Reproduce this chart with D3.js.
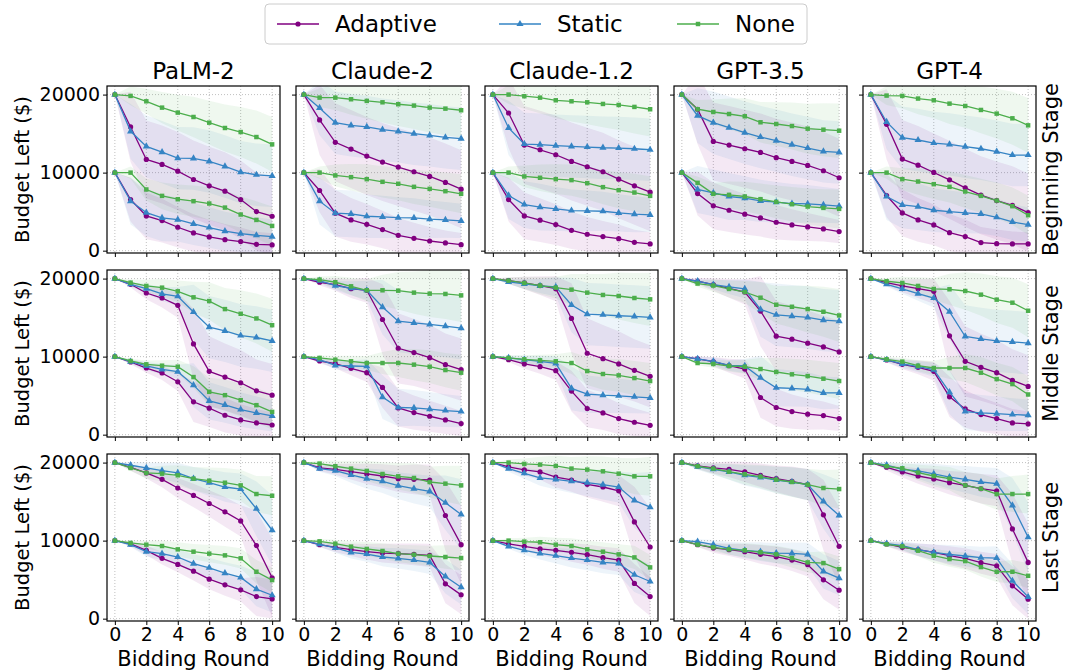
<!DOCTYPE html>
<html lang="en">
<head>
<meta charset="utf-8">
<script src="https://cdn.jsdelivr.net/npm/d3@7"></script>
<style>
  body { margin: 0; background: #fff; font-family: "DejaVu Sans", sans-serif; }
  #chart text { font-family: "DejaVu Sans", sans-serif; fill: #000; }
  .grid line { stroke: #b0b0b0; stroke-width: 0.8; stroke-dasharray: 1,2; }
  .frame { fill: none; stroke: #000; stroke-width: 1.2; }
  .tick line { stroke: #000; }
</style>
</head>
<body>
<svg id="chart" width="1070" height="671"></svg>
<script>
// budget left, in $1000, one row per model (PaLM-2, Claude-2, Claude-1.2, GPT-3.5, GPT-4)
var models = ["PaLM-2", "Claude-2", "Claude-1.2", "GPT-3.5", "GPT-4"];
var stages = ["Beginning Stage", "Middle Stage", "Last Stage"];
var methods = ["Adaptive", "Static", "None"];
var colors = ["#800080", "#3584c4", "#4cae4c"];
var rounds = [0, 1, 2, 3, 4, 5, 6, 7, 8, 9, 10];
var xTicks = [0, 2, 4, 6, 8, 10];
var yTicks = [0, 10, 20];

// ---- beginning stage ----
var beginAdaptiveHi = [
  [20, 15.85, 11.69, 11.05, 10.19, 9.12, 8.31, 7.62, 6.55, 5.01, 4.41],
  [20, 16.75, 13.88, 13.02, 12.12, 11.35, 10.71, 10.11, 9.51, 8.74, 7.88],
  [20, 17.64, 13.53, 12.93, 12.29, 11.43, 10.75, 10.11, 9.16, 8.31, 7.49],
  [20, 18.12, 14.00, 13.53, 13.06, 12.59, 11.91, 11.43, 10.92, 10.24, 9.34],
  [20, 16.19, 11.73, 10.96, 10.02, 9.08, 8.05, 7.11, 6.42, 5.82, 4.88]];
var beginStaticHi = [
  [20, 15.29, 13.36, 12.63, 11.86, 11.82, 11.43, 10.79, 10.06, 9.72, 9.59],
  [20, 18.29, 16.40, 16.06, 15.85, 15.50, 15.29, 14.99, 14.78, 14.52, 14.35],
  [20, 15.72, 13.66, 13.58, 13.45, 13.36, 13.28, 13.19, 13.15, 13.06, 12.93],
  [20, 17.30, 16.40, 15.76, 15.12, 14.56, 14.09, 13.58, 13.15, 12.72, 12.59],
  [20, 16.49, 14.48, 14.18, 13.79, 13.62, 13.32, 13.06, 12.68, 12.25, 12.25]];
var beginNoneHi = [
  [20, 19.83, 19.14, 18.33, 17.69, 17.13, 16.40, 15.72, 15.20, 14.56, 13.62],
  [20, 19.61, 19.61, 19.40, 19.19, 19.01, 18.76, 18.59, 18.33, 18.20, 17.99],
  [20, 20, 19.79, 19.61, 19.27, 19.14, 19.01, 18.80, 18.67, 18.42, 18.12],
  [20, 18.12, 17.77, 17.51, 17.22, 16.45, 16.23, 15.97, 15.63, 15.50, 15.37],
  [20, 19.87, 19.83, 19.49, 19.27, 18.84, 18.54, 18.03, 17.56, 16.96, 16.06]];
var beginAdaptiveLo = [
  [10, 6.55, 4.45, 3.85, 3.00, 2.27, 1.76, 1.41, 1.16, 0.81, 0.73],
  [10, 7.71, 4.80, 3.94, 3.38, 2.70, 1.97, 1.58, 1.24, 0.99, 0.77],
  [10, 6.55, 4.45, 3.90, 3.34, 2.61, 2.10, 1.80, 1.54, 1.07, 0.86],
  [10, 7.32, 5.74, 5.18, 4.67, 4.20, 3.64, 3.30, 3.04, 2.78, 2.44],
  [10, 7.07, 4.84, 3.94, 3.30, 2.31, 1.80, 1.03, 0.90, 0.86, 0.86]];
var beginStaticLo = [
  [10, 6.34, 4.88, 4.20, 3.98, 3.43, 2.96, 2.49, 2.19, 1.97, 1.80],
  [10, 6.34, 4.80, 4.71, 4.41, 4.33, 4.24, 4.20, 4.03, 3.94, 3.81],
  [10, 7.07, 5.91, 5.57, 5.35, 5.14, 5.10, 5.05, 4.84, 4.67, 4.58],
  [10, 7.84, 7.41, 6.94, 6.72, 6.38, 6.21, 6.04, 6.00, 5.87, 5.70],
  [10, 6.94, 5.87, 5.65, 5.18, 5.01, 4.84, 4.71, 4.28, 3.68, 3.34]];
var beginNoneLo = [
  [10, 10, 7.84, 7.02, 6.59, 6.34, 6.04, 5.52, 4.63, 3.94, 3.17],
  [10, 10, 9.64, 9.42, 9.16, 8.82, 8.57, 8.18, 7.92, 7.62, 7.28],
  [10, 10, 9.51, 9.34, 9.16, 9.04, 8.65, 8.14, 7.75, 7.45, 7.02],
  [10, 8.69, 7.28, 7.15, 6.94, 6.60, 6.25, 5.95, 5.65, 5.48, 5.35],
  [10, 10, 9.16, 8.86, 8.52, 8.18, 7.58, 7.02, 6.42, 5.70, 4.54]];

// ---- middle stage ----
var midAdaptiveHi = [
  [20, 19.27, 18.15, 17.51, 16.57, 11.63, 8.11, 7.38, 6.65, 5.62, 5.06],
  [20, 19.53, 19.23, 18.71, 18.50, 14.76, 11.07, 10.52, 9.87, 8.97, 8.33],
  [20, 19.74, 19.44, 19.10, 18.71, 14.89, 10.43, 9.74, 9.06, 8.24, 7.47],
  [20, 19.66, 19.23, 18.76, 18.28, 15.84, 12.62, 12.23, 11.72, 11.24, 10.60],
  [20, 19.48, 19.06, 18.71, 18.37, 12.66, 9.40, 8.63, 7.94, 6.95, 6.18]];
var midStaticHi = [
  [20, 19.27, 18.71, 18.03, 17.73, 15.71, 13.78, 13.30, 12.70, 12.45, 12.02],
  [20, 19.74, 19.10, 18.76, 18.50, 16.35, 14.55, 14.33, 14.12, 13.91, 13.65],
  [20, 19.57, 19.31, 19.06, 18.93, 16.61, 15.45, 15.36, 15.24, 15.15, 15.02],
  [20, 19.66, 19.23, 18.93, 18.67, 16.05, 15.36, 15.19, 15.02, 14.68, 14.55],
  [20, 19.27, 18.67, 18.07, 17.51, 15.75, 12.58, 12.27, 12.02, 11.89, 11.72]];
var midNoneHi = [
  [20, 19.48, 19.06, 18.84, 18.37, 17.60, 17.12, 16.09, 15.49, 14.89, 14.03],
  [20, 19.87, 19.53, 19.01, 18.50, 18.50, 18.45, 18.20, 18.07, 18.03, 17.85],
  [20, 19.74, 19.44, 19.10, 18.84, 18.58, 18.20, 17.90, 17.77, 17.51, 17.34],
  [20, 19.36, 19.10, 18.67, 18.28, 17.55, 16.65, 16.39, 16.09, 15.75, 15.28],
  [20, 19.66, 19.44, 19.06, 18.67, 18.63, 18.41, 17.94, 17.30, 16.91, 15.88]];
var midAdaptiveLo = [
  [10, 9.31, 8.54, 7.90, 6.78, 4.21, 3.39, 2.49, 1.89, 1.50, 1.24],
  [10, 9.44, 9.10, 8.50, 7.94, 6.05, 3.43, 2.83, 2.36, 1.89, 1.42],
  [10, 9.61, 9.06, 8.71, 8.20, 5.58, 3.35, 2.79, 2.06, 1.59, 1.20],
  [10, 9.70, 9.36, 8.84, 8.41, 4.76, 3.48, 2.96, 2.62, 2.45, 2.06],
  [10, 9.57, 9.01, 8.63, 8.11, 4.85, 3.30, 2.58, 2.06, 1.50, 1.37]];
var midStaticLo = [
  [10, 9.36, 8.80, 8.37, 8.07, 6.35, 4.33, 3.82, 3.22, 2.79, 2.40],
  [10, 9.61, 8.88, 8.80, 8.76, 4.81, 3.48, 3.43, 3.26, 3.09, 2.96],
  [10, 9.83, 9.61, 9.40, 9.14, 5.92, 5.19, 5.06, 4.98, 4.85, 4.72],
  [10, 9.70, 9.40, 8.88, 8.80, 7.30, 6.01, 5.92, 5.79, 5.36, 5.36],
  [10, 9.57, 9.06, 8.71, 8.33, 5.45, 2.96, 2.79, 2.70, 2.58, 2.49]];
var midNoneLo = [
  [10, 9.44, 9.01, 8.84, 8.71, 7.38, 5.49, 5.06, 4.42, 3.78, 2.92],
  [10, 9.83, 9.61, 9.40, 9.18, 9.18, 9.18, 8.97, 8.71, 8.28, 7.94],
  [10, 9.83, 9.66, 9.53, 9.40, 9.18, 8.15, 7.77, 7.60, 7.25, 6.87],
  [10, 9.18, 9.06, 8.80, 8.71, 8.41, 8.03, 7.73, 7.51, 7.17, 6.87],
  [10, 9.66, 9.36, 8.84, 8.54, 8.54, 8.54, 7.94, 7.12, 6.48, 5.15]];

// ---- last stage ----
var lastAdaptiveHi = [
  [20, 19.40, 18.67, 17.85, 16.74, 15.79, 14.76, 13.69, 12.53, 9.36, 5.24],
  [20, 19.31, 19.14, 18.84, 18.54, 18.28, 17.94, 17.85, 17.77, 13.22, 9.48],
  [20, 19.44, 19.06, 18.80, 18.15, 17.77, 17.21, 16.87, 16.39, 12.40, 9.18],
  [20, 19.57, 19.31, 19.14, 18.80, 18.37, 17.94, 17.60, 17.17, 13.30, 9.27],
  [20, 19.40, 18.80, 18.28, 17.90, 17.42, 17.08, 16.65, 16.39, 11.50, 7.21]];
var lastStaticHi = [
  [20, 19.66, 19.31, 18.97, 18.67, 17.94, 17.42, 16.87, 16.61, 14.08, 11.33],
  [20, 19.23, 18.97, 18.41, 17.94, 17.60, 17.04, 16.65, 16.31, 14.85, 13.35],
  [20, 19.23, 18.63, 18.03, 17.85, 17.60, 17.42, 17.17, 16.87, 15.15, 14.29],
  [20, 19.48, 19.14, 18.80, 18.37, 18.11, 17.77, 17.51, 17.17, 15.02, 13.22],
  [20, 19.66, 19.14, 18.93, 18.54, 18.15, 17.85, 17.51, 17.30, 14.51, 10.43]];
var lastNoneHi = [
  [20, 19.31, 18.67, 18.58, 18.37, 17.94, 17.68, 17.42, 17.08, 15.97, 15.75],
  [20, 19.87, 19.53, 19.23, 18.93, 18.54, 18.24, 18.03, 17.51, 17.30, 17.08],
  [20, 20, 19.83, 19.74, 19.57, 19.23, 19.10, 18.88, 18.58, 18.24, 18.24],
  [20, 19.53, 19.23, 18.84, 18.50, 18.20, 17.81, 17.51, 17.17, 16.74, 16.61],
  [20, 19.53, 19.27, 18.71, 18.28, 17.94, 17.08, 16.65, 15.97, 15.97, 15.97]];
var lastAdaptiveLo = [
  [10, 9.57, 8.76, 7.73, 6.95, 6.09, 5.06, 4.33, 3.69, 2.83, 2.53],
  [10, 9.48, 9.14, 8.84, 8.58, 8.41, 8.33, 8.24, 8.11, 4.46, 3.05],
  [10, 9.57, 9.27, 8.93, 8.76, 8.50, 8.20, 7.81, 7.51, 4.51, 2.83],
  [10, 9.48, 9.06, 8.84, 8.58, 8.24, 7.94, 7.51, 6.91, 4.98, 3.65],
  [10, 9.57, 9.14, 8.84, 8.50, 8.07, 7.73, 7.17, 6.78, 4.21, 2.49]];
var lastStaticLo = [
  [10, 9.48, 8.58, 8.33, 7.90, 7.04, 6.52, 5.84, 5.28, 3.78, 3.00],
  [10, 9.53, 9.06, 8.50, 8.28, 7.90, 7.73, 7.51, 7.21, 5.41, 4.03],
  [10, 9.27, 8.76, 8.37, 8.07, 7.77, 7.51, 7.21, 7.08, 5.62, 4.76],
  [10, 9.87, 9.48, 9.01, 8.76, 8.58, 8.41, 8.37, 8.24, 6.05, 5.19],
  [10, 9.61, 9.36, 8.84, 8.50, 8.24, 8.03, 7.81, 7.77, 4.85, 2.79]];
var lastNoneLo = [
  [10, 9.70, 9.48, 9.31, 8.88, 8.58, 8.33, 8.11, 7.73, 6.01, 4.94],
  [10, 9.91, 9.61, 9.23, 8.93, 8.67, 8.33, 8.20, 8.03, 7.90, 7.77],
  [10, 10, 9.87, 9.79, 9.48, 9.31, 8.88, 8.58, 8.24, 7.85, 6.57],
  [10, 9.48, 9.14, 8.88, 8.76, 8.50, 8.24, 7.77, 7.21, 7.12, 6.35],
  [10, 9.53, 9.27, 8.71, 8.07, 7.64, 7.38, 6.61, 6.01, 6.01, 5.49]];

// spread (std, $1000) of the shaded bands, rough estimates per stage
var sdBeginHi = [[0, 4.5, 5, 5, 5, 5, 5, 5, 5, 5, 5], [0, 3.5, 4, 4, 4, 4, 4, 4, 4, 4, 4], [0, 1.2, 1.6, 2, 2.3, 2.6, 2.8, 3, 3.2, 3.4, 3.5]];
var sdBeginLo = [[0, 2.8, 3, 2.8, 2.6, 2.4, 2.2, 2, 1.8, 1.6, 1.5], [0, 3, 3, 3, 2.8, 2.7, 2.6, 2.5, 2.4, 2.3, 2.2], [0, 0.8, 1.4, 1.7, 1.9, 2, 2.1, 2.2, 2.3, 2.4, 2.5]];
var sdMidHi = [[0, 0.4, 0.8, 1.2, 1.6, 4.5, 4.5, 4.3, 4.2, 4, 4], [0, 0.3, 0.6, 0.9, 1.2, 3.5, 4, 4, 4, 4, 4], [0, 0.4, 0.8, 1.1, 1.4, 2, 2.4, 2.7, 3, 3.2, 3.4]];
var sdMidLo = [[0, 0.3, 0.6, 0.9, 1.2, 2.6, 2.4, 2.2, 2, 1.8, 1.6], [0, 0.3, 0.5, 0.7, 0.9, 2.8, 2.4, 2.3, 2.2, 2.1, 2], [0, 0.3, 0.5, 0.7, 0.9, 1.4, 1.8, 2, 2.1, 2.2, 2.3]];
var sdLastHi = [[0, 0.4, 0.7, 1, 1.3, 1.5, 1.7, 1.9, 2, 4.5, 5], [0, 0.4, 0.7, 1, 1.3, 1.5, 1.7, 1.9, 2, 3.5, 4.5], [0, 0.4, 0.7, 1, 1.3, 1.5, 1.7, 1.9, 2, 2.3, 2.5]];
var sdLastLo = [[0, 0.3, 0.6, 0.8, 1, 1.2, 1.3, 1.4, 1.5, 2.5, 2.5], [0, 0.3, 0.6, 0.8, 1, 1.2, 1.3, 1.4, 1.5, 2.2, 2.2], [0, 0.3, 0.5, 0.7, 0.9, 1, 1.1, 1.2, 1.3, 1.5, 1.6]];

var stageMeans = [
  [[beginAdaptiveHi, beginStaticHi, beginNoneHi], [beginAdaptiveLo, beginStaticLo, beginNoneLo]],
  [[midAdaptiveHi, midStaticHi, midNoneHi], [midAdaptiveLo, midStaticLo, midNoneLo]],
  [[lastAdaptiveHi, lastStaticHi, lastNoneHi], [lastAdaptiveLo, lastStaticLo, lastNoneLo]]];
var stageSd = [[sdBeginHi, sdBeginLo], [sdMidHi, sdMidLo], [sdLastHi, sdLastLo]];

var svg = d3.select("#chart");
var panelW = 173, panelH = 167;
var colX = function(c) { return 107 + c * 189; };
var rowY = function(r) { return 86 + r * 184; };

var x = d3.scaleLinear().domain([-0.5, 10.5]).range([0, panelW]);
var y = d3.scaleLinear().domain([-0.3, 21.1]).range([panelH, 0]);

var line = d3.line().x(function(d, i) { return x(rounds[i]); }).y(function(d) { return y(d); });
var area = d3.area()
  .x(function(d) { return x(d.r); })
  .y0(function(d) { return y(d.m - d.s); })
  .y1(function(d) { return y(d.m + d.s); });

var tri = d3.symbol().type(d3.symbolTriangle).size(22);
var sq = d3.symbol().type(d3.symbolSquare).size(20);

function drawMarker(g, m, cx, cy) {
  if (m === 0) {
    g.append("circle").attr("cx", cx).attr("cy", cy).attr("r", 2.6).attr("fill", colors[0]);
  } else if (m === 1) {
    g.append("path").attr("d", tri()).attr("transform", "translate(" + cx + "," + cy + ")").attr("fill", colors[1]);
  } else {
    g.append("path").attr("d", sq()).attr("transform", "translate(" + cx + "," + cy + ")").attr("fill", colors[2]);
  }
}

stages.forEach(function(stage, r) {
  models.forEach(function(model, c) {
    var g = svg.append("g").attr("transform", "translate(" + colX(c) + "," + rowY(r) + ")");
    var clipId = "clip-" + r + "-" + c;
    g.append("clipPath").attr("id", clipId).append("rect").attr("width", panelW).attr("height", panelH);

    // grid
    var grid = g.append("g").attr("class", "grid");
    grid.selectAll("line.gx").data(xTicks).enter().append("line")
      .attr("x1", function(d) { return x(d); }).attr("x2", function(d) { return x(d); })
      .attr("y1", 0).attr("y2", panelH);
    grid.selectAll("line.gy").data(yTicks).enter().append("line")
      .attr("y1", function(d) { return y(d); }).attr("y2", function(d) { return y(d); })
      .attr("x1", 0).attr("x2", panelW);

    var plot = g.append("g").attr("clip-path", "url(#" + clipId + ")");

    // bands
    [0, 1].forEach(function(level) {
      methods.forEach(function(meth, m) {
        var means = stageMeans[r][level][m][c];
        var sd = stageSd[r][level][m];
        var pts = rounds.map(function(rd, i) { return { r: rd, m: means[i], s: sd[i] }; });
        plot.append("path").attr("d", area(pts))
          .attr("fill", colors[m]).attr("fill-opacity", 0.09);
      });
    });

    // lines and markers
    [0, 1].forEach(function(level) {
      methods.forEach(function(meth, m) {
        var means = stageMeans[r][level][m][c];
        plot.append("path").attr("d", line(means))
          .attr("fill", "none").attr("stroke", colors[m]).attr("stroke-width", 1.3);
        var mg = plot.append("g");
        means.forEach(function(v, i) { drawMarker(mg, m, x(rounds[i]), y(v)); });
      });
    });

    // axes
    var xa = g.append("g").attr("transform", "translate(0," + panelH + ")")
      .call(d3.axisBottom(x).tickValues(xTicks).tickSize(4).tickPadding(3)
        .tickFormat(r === 2 ? d3.format("d") : ""));
    var ya = g.append("g")
      .call(d3.axisLeft(y).tickValues(yTicks).tickSize(4).tickPadding(3)
        .tickFormat(c === 0 ? function(d) { return d3.format("d")(d * 1000); } : ""));
    [xa, ya].forEach(function(a) {
      a.select(".domain").remove();
      a.selectAll("text").attr("font-size", 19).attr("font-family", "DejaVu Sans");
    });

    g.append("rect").attr("class", "frame").attr("width", panelW).attr("height", panelH);

    if (r === 0) {
      g.append("text").attr("x", panelW / 2).attr("y", -7).attr("text-anchor", "middle")
        .attr("font-size", 23).text(model);
    }
    if (r === 2) {
      g.append("text").attr("x", panelW / 2).attr("y", panelH + 45).attr("text-anchor", "middle")
        .attr("font-size", 21).text("Bidding Round");
    }
    if (c === 0) {
      g.append("text").attr("transform", "translate(-78," + (panelH / 2) + ") rotate(-90)")
        .attr("text-anchor", "middle").attr("font-size", 19.5).text("Budget Left ($)");
    }
    if (c === 4) {
      g.append("text").attr("transform", "translate(" + (panelW + 22) + "," + (panelH / 2) + ") rotate(-90)")
        .attr("text-anchor", "middle").attr("font-size", 21).text(stage);
    }
  });
});

// legend
var leg = svg.append("g");
leg.append("rect").attr("x", 265).attr("y", 4).attr("width", 542).attr("height", 40)
  .attr("rx", 4).attr("fill", "#fff").attr("stroke", "#cccccc");
var legX = [277, 499, 677];
methods.forEach(function(meth, m) {
  var lx = legX[m];
  leg.append("line").attr("x1", lx).attr("x2", lx + 42).attr("y1", 24).attr("y2", 24)
    .attr("stroke", colors[m]).attr("stroke-width", 1.3);
  drawMarker(leg, m, lx + 21, 24);
  leg.append("text").attr("x", lx + 58).attr("y", 32).attr("font-size", 23).text(meth);
});
</script>
</body>
</html>
